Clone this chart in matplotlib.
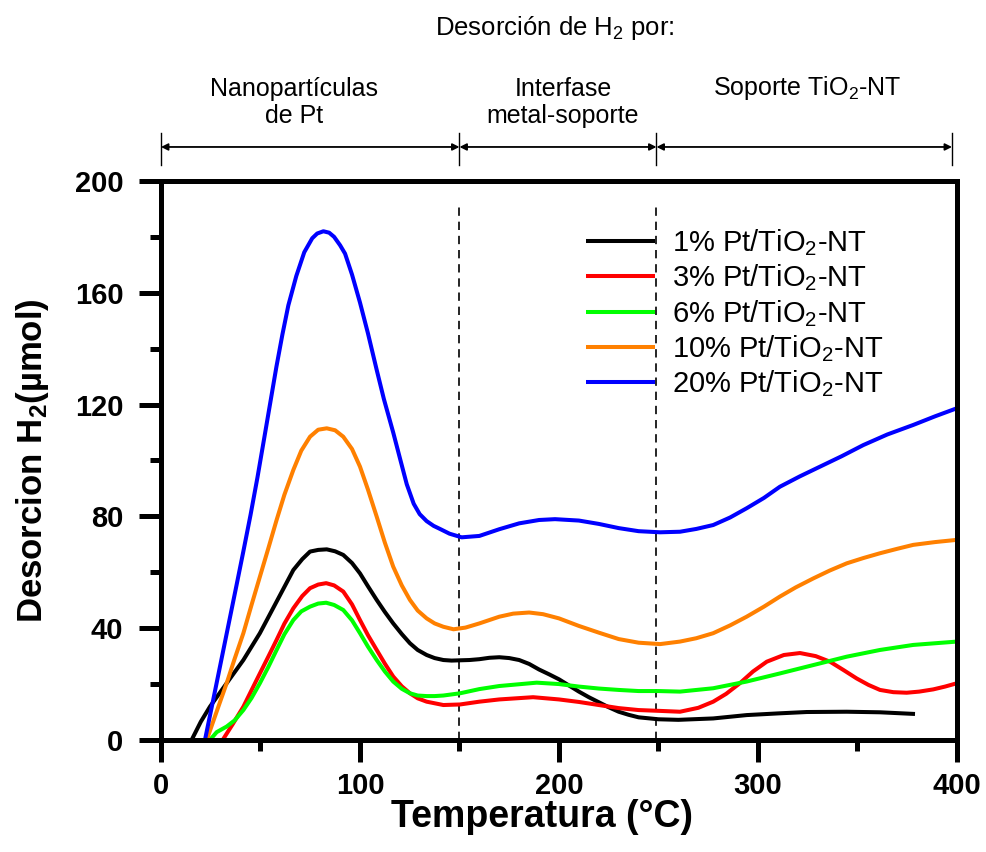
import matplotlib
matplotlib.use('Agg')
from matplotlib import pyplot as plt
from matplotlib.ticker import MultipleLocator
import matplotlib.transforms as mtransforms

plt.rcParams['font.family'] = 'Liberation Sans'
plt.rcParams['mathtext.fontset'] = 'custom'
plt.rcParams['mathtext.rm'] = 'Liberation Sans'
plt.rcParams['mathtext.it'] = 'Liberation Sans'
plt.rcParams['mathtext.bf'] = 'Liberation Sans:bold'

# temperatura (°C) y desorcion (umol) de cada muestra
t_1 = [15.4, 20, 24.6, 33, 41.4, 49.7, 58.1, 66.5, 71, 74.9, 79, 83.3, 87.5, 91.6, 96, 100,
       104, 108.4, 112.5, 116.7, 121, 125.1, 129, 133.5, 137.5, 141.9, 146, 150.3, 155, 160,
       165, 170, 175, 180, 185, 190, 195, 200, 205, 210, 215, 220, 225, 230, 235, 240, 250,
       260, 277.5, 294.3, 310, 324.5, 344.6, 361.3, 378.9]
h2_1 = [0, 6.5, 11.9, 20.3, 28.6, 38.2, 49.5, 60.8, 64.7, 67.4, 68.0, 68.2, 67.5, 66.2, 63.3,
        59.6, 55.0, 50.1, 45.8, 41.7, 37.9, 34.6, 32.2, 30.4, 29.3, 28.6, 28.4, 28.5, 28.6,
        28.9, 29.4, 29.6, 29.3, 28.6, 27.2, 25.2, 23.5, 21.7, 19.5, 17.3, 15.3, 13.5, 11.7,
        10.1, 9.0, 8.1, 7.4, 7.2, 7.7, 8.9, 9.5, 10.0, 10.1, 9.9, 9.3]

t_3 = [31, 36, 41.4, 45.5, 49.7, 54, 58.1, 62, 66.5, 71, 74.9, 79, 83, 87, 91.6, 96, 100, 104,
       108.4, 112.5, 116.7, 121, 125.1, 129, 133.5, 141.9, 150.3, 160, 170, 187, 200, 210, 220,
       230, 240, 250.8, 260.8, 270, 277.5, 284, 290.9, 297.5, 304.4, 313, 321.1, 329, 336.2,
       343, 349.6, 355.5, 361.3, 368, 374.7, 381, 388.1, 394, 400]
h2_3 = [0, 5.6, 11.9, 17.8, 23.8, 29.9, 35.8, 41.6, 47.1, 51.5, 54.3, 55.6, 56.1, 55.3, 53.1,
        48.5, 42.9, 37.5, 32.2, 27.3, 22.7, 19.2, 16.7, 14.9, 13.7, 12.5, 12.7, 13.7, 14.5,
        15.3, 14.5, 13.6, 12.5, 11.4, 10.7, 10.4, 10.1, 11.5, 13.7, 16.5, 20.3, 24.5, 28.0,
        30.4, 31.1, 30.0, 28.0, 25.0, 22.0, 19.7, 17.9, 17.1, 16.9, 17.3, 18.1, 19.1, 20.3]

t_6 = [24.6, 28, 33, 37, 41.4, 45.5, 49.7, 54, 58.1, 62, 66.5, 70.5, 74.9, 79, 83, 87, 91.6,
       96, 100, 104, 108.4, 112.5, 116.7, 121, 125.1, 129, 133.5, 137.5, 141.9, 150.3, 160,
       170, 188.8, 200, 210, 220, 230, 240, 250, 260.8, 277.5, 294.3, 311, 327.8, 344.6,
       361.3, 378, 400]
h2_6 = [0, 2.8, 4.8, 7.0, 10.7, 15.0, 20.3, 26.2, 32.2, 37.8, 42.9, 46.0, 47.7, 48.8, 49.1,
        48.3, 46.5, 42.8, 38.2, 33.4, 28.6, 24.5, 20.9, 18.3, 16.7, 15.9, 15.7, 15.7, 15.9,
        16.7, 18.2, 19.3, 20.5, 20.0, 19.1, 18.4, 17.9, 17.5, 17.5, 17.3, 18.5, 20.9, 23.8,
        26.8, 29.8, 32.2, 34.0, 35.2]

t_10 = [23, 28, 33, 37, 41.4, 45.5, 49.7, 54, 58.1, 62, 66.5, 70.5, 74.9, 79, 83.3, 87.5, 91.6,
        96, 100, 104, 108.4, 112.5, 116.7, 121, 125.1, 129, 133.5, 137.5, 141.9, 147, 153, 160,
        170, 177, 185, 192, 200, 210, 220, 230, 240, 250.8, 260.8, 269, 277.5, 286, 294.3, 303,
        311, 319, 327.8, 336, 344.6, 353, 361.3, 370, 378, 389, 400]
h2_10 = [0, 10.2, 20.3, 29.0, 38.2, 48.3, 58.4, 68.7, 78.7, 87.7, 96.6, 103.5, 108.5, 111.0,
         111.5, 110.8, 108.5, 104.1, 97.8, 89.6, 79.9, 70.6, 62.0, 55.3, 50.1, 46.3, 43.5, 41.7,
         40.5, 39.6, 40.2, 41.7, 44.1, 45.2, 45.6, 45.0, 43.5, 40.8, 38.4, 36.1, 34.8, 34.3,
         35.2, 36.4, 38.2, 41.0, 44.1, 47.7, 51.3, 54.6, 57.8, 60.6, 63.2, 65.1, 66.8, 68.4,
         69.8, 70.8, 71.6]

t_20 = [22.1, 26, 30, 34, 38, 41.4, 45, 48.5, 52, 55, 58, 61, 64, 68, 72, 76, 78.5, 81.6, 84.5,
        87, 90, 92.5, 96, 100, 104, 108.4, 112, 116.7, 120, 123.5, 127, 130, 133.5, 137, 140.2,
        145, 151.1, 160, 170, 180, 190, 198, 210, 220, 230, 240, 250.8, 260.8, 269, 277.5, 286,
        294.3, 303, 311, 321, 331.2, 342, 352.9, 365, 378, 389, 400]
h2_20 = [0, 13.5, 27.5, 41.5, 55.5, 67.5, 80.5, 94.0, 108.5, 121.0, 133.5, 145.0, 155.5, 166.0,
         174.5, 179.5, 181.2, 182.0, 181.5, 180.0, 177.0, 174.0, 166.5, 156.5, 145.5, 132.4,
         122.0, 110.0, 101.0, 91.5, 84.5, 80.8, 78.3, 76.6, 75.5, 73.8, 72.5, 73.0, 75.4, 77.5,
         78.7, 79.0, 78.5, 77.3, 75.8, 74.7, 74.3, 74.5, 75.5, 76.9, 79.6, 82.9, 86.6, 90.6,
         94.3, 97.8, 101.5, 105.5, 109.3, 112.7, 115.8, 118.7]

labels = ['1% Pt/TiO$_2$-NT', '3% Pt/TiO$_2$-NT', '6% Pt/TiO$_2$-NT',
          '10% Pt/TiO$_2$-NT', '20% Pt/TiO$_2$-NT']
colors = ['#000000', '#ff0000', '#00ff00', '#ff8000', '#0000ff']

# limites de las zonas de desorcion
zonas = [0, 150, 249, 397.5]
zona_textos = ['Nanopartículas\nde Pt', 'Interfase\nmetal-soporte', 'Soporte TiO$_2$-NT']

fig = plt.figure(figsize=(9.87, 8.52), dpi=100)
ax = fig.add_axes([0.1631, 0.1315, 0.8065, 0.6561])

series = [(t_1, h2_1), (t_3, h2_3), (t_6, h2_6), (t_10, h2_10), (t_20, h2_20)]
for (t, h), lab, c in zip(series, labels, colors):
    ax.plot(t, h, color=c, lw=2.9, label=lab, solid_joinstyle='round', solid_capstyle='butt')

# lineas divisorias
for x in zonas[1:3]:
    ax.plot([x, x], [0, 191], color='black', lw=1.2, ls=(0, (5, 3.5)), zorder=0)

ax.set_xlim(0, 400)
ax.set_ylim(0, 200)
ax.xaxis.set_major_locator(MultipleLocator(100))
ax.xaxis.set_minor_locator(MultipleLocator(50))
ax.yaxis.set_major_locator(MultipleLocator(40))
ax.yaxis.set_minor_locator(MultipleLocator(20))
for s in ax.spines.values():
    s.set_linewidth(3.6)
ax.tick_params(which='major', direction='out', length=16, width=3.6, labelsize=21,
               top=False, right=False)
ax.tick_params(which='minor', direction='out', length=8, width=3.6, top=False, right=False)
ax.tick_params(axis='x', which='major', pad=7)
ax.tick_params(axis='y', which='major', pad=11)
for lbl in ax.get_xticklabels() + ax.get_yticklabels():
    lbl.set_fontweight('bold')

ax.set_xlabel('Temperatura (°C)', fontsize=27, fontweight='bold')
ax.xaxis.set_label_coords(0.479, -0.106)
ax.set_ylabel('Desorcion H$_\\mathbf{2}$(µmol)', fontsize=25, fontweight='bold')
ax.yaxis.set_label_coords(-0.138, 0.5)

leg = ax.legend(loc='upper left', bbox_to_anchor=(0.534, 0.918), frameon=False, fontsize=21,
                handlelength=2.35, handletextpad=0.6, labelspacing=0.16, borderaxespad=0,
                borderpad=0)

# flechas de zonas por encima del grafico
trans = mtransforms.blended_transform_factory(ax.transData, fig.transFigure)
for x in zonas:
    ax.plot([x, x], [0.806, 0.844], transform=trans, color='black', lw=1.0, clip_on=False)
for a, b in zip(zonas[:-1], zonas[1:]):
    ax.annotate('', xy=(b, 0.8275), xytext=(a, 0.8275), xycoords=trans, textcoords=trans,
                arrowprops=dict(arrowstyle='<|-|>', color='black', lw=1.3,
                                mutation_scale=10, shrinkA=0, shrinkB=0))

ax.text(67, 0.880, zona_textos[0], transform=trans, ha='center', va='center',
        fontsize=18, linespacing=1.15)
ax.text(202, 0.880, zona_textos[1], transform=trans, ha='center', va='center',
        fontsize=18, linespacing=1.15)
ax.text(324.5, 0.897, zona_textos[2], transform=trans, ha='center', va='center',
        fontsize=18)
fig.text(0.562, 0.967, 'Desorción de H$_2$ por:', ha='center', va='center', fontsize=18.5)

fig.savefig('out.png', dpi=100)
